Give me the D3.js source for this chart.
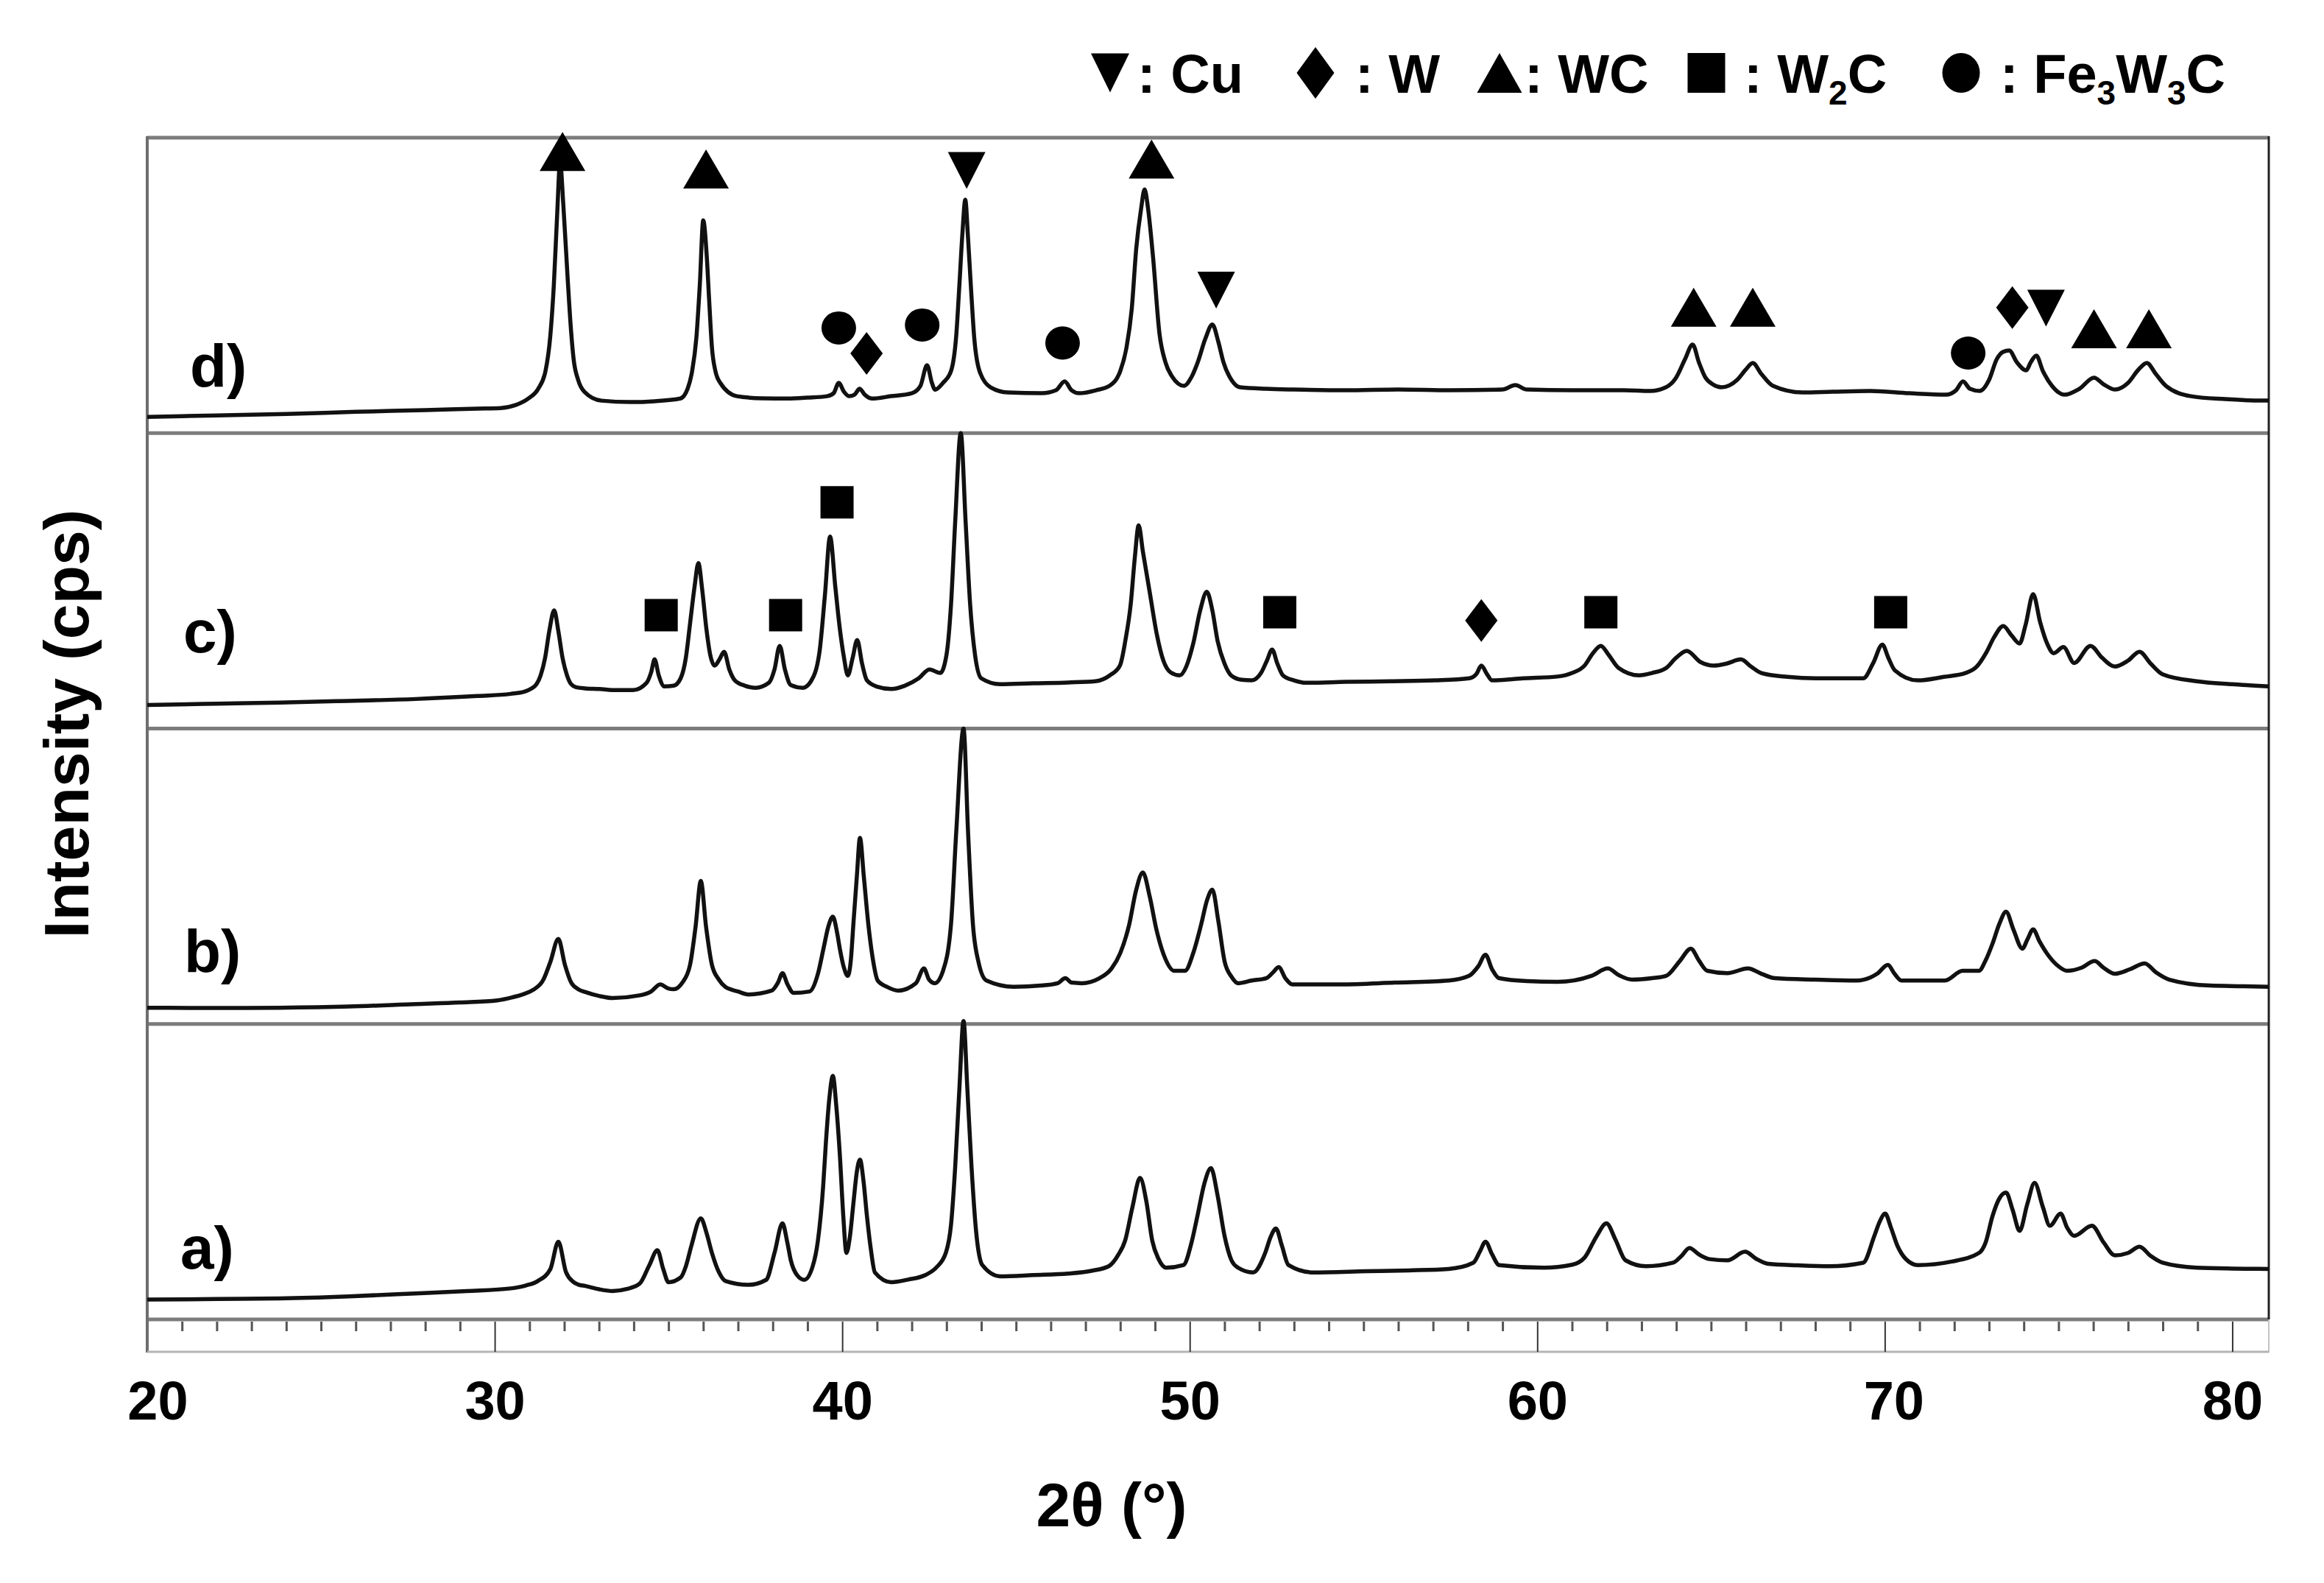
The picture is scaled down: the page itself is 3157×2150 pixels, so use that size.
<!DOCTYPE html>
<html>
<head>
<meta charset="utf-8">
<script src="https://cdn.jsdelivr.net/npm/d3@7"></script>
<style>
  body { margin: 0; background: #fff; }
  svg { display: block; }
  text { font-family: "Liberation Sans", Arial, sans-serif; font-weight: bold; fill: #000; }
</style>
</head>
<body>
<svg id="chart" width="3157" height="2150"></svg>
<script>

// XRD patterns, 2theta (deg) and intensity (% of panel height)
var twoThetaD = [20.0, 22.0, 24.0, 26.0, 28.0, 29.5, 30.17, 30.6, 30.97, 31.25, 31.46, 31.6, 31.7, 31.8, 31.88, 31.97, 32.1, 32.2, 32.27, 32.4, 32.58, 33.07, 33.9, 34.6, 35.34, 35.55, 35.68, 35.8, 35.9, 36.0, 36.1, 36.17, 36.25, 36.35, 36.49, 36.97, 37.7, 38.43, 39.0, 39.56, 39.75, 39.9, 40.05, 40.2, 40.35, 40.5, 40.65, 40.86, 41.4, 42.0, 42.25, 42.44, 42.58, 42.67, 42.9, 43.13, 43.28, 43.37, 43.46, 43.54, 43.62, 43.7, 43.8, 43.95, 44.27, 44.77, 45.74, 46.15, 46.4, 46.6, 46.82, 47.3, 47.69, 48.0, 48.18, 48.33, 48.46, 48.6, 48.7, 48.8, 48.94, 49.13, 49.3, 49.5, 49.83, 50.05, 50.23, 50.45, 50.65, 50.82, 50.97, 51.2, 51.45, 52.2, 53.0, 54.5, 56.0, 57.5, 59.0, 59.37, 59.7, 61.0, 62.5, 63.25, 63.7, 63.98, 64.25, 64.47, 64.65, 64.83, 65.05, 65.3, 65.75, 66.0, 66.2, 66.45, 66.78, 67.63, 68.5, 69.58, 70.7, 71.76, 72.05, 72.25, 72.45, 72.73, 73.0, 73.22, 73.4, 73.58, 73.8, 74.07, 74.2, 74.36, 74.55, 74.81, 75.17, 75.6, 76.02, 76.3, 76.63, 77.0, 77.3, 77.54, 77.8, 78.09, 78.81, 79.8, 80.89, 81.05];
var countsD = [5.5, 6.0, 6.5, 7.2, 7.8, 8.3, 8.5, 9.5, 11.75, 15, 21, 33, 50, 75, 92, 78, 52, 34, 25, 18, 14, 11, 10.5, 10.8, 11.7, 15, 21, 32, 50, 72, 60, 45, 29, 21, 17, 12.5, 11.8, 11.7, 12, 12.5, 13.5, 17, 14, 12.5, 13, 15, 13, 11.7, 12.5, 13.5, 16, 23, 17, 14.7, 17, 21, 33, 50, 68, 79, 66, 50, 32, 21, 15.5, 13.75, 13.5, 14.5, 17.5, 14.5, 13.5, 14.5, 16, 21, 29, 42, 62.5, 76, 82.5, 76, 60, 33.5, 24, 19, 16, 19, 24, 32, 36.75, 31, 24, 18, 15.5, 15, 14.75, 14.5, 14.75, 14.5, 14.75, 16.25, 14.75, 14.5, 14.5, 14.25, 15.5, 18.5, 25, 30, 24, 19, 16.5, 15.5, 18, 21.5, 23.75, 20, 16, 13.75, 14, 14.25, 13.5, 13, 14.5, 17.5, 15, 14.25, 18, 25, 27.5, 28, 24, 21.25, 24, 26.25, 21, 16, 13, 15, 18.75, 16.5, 14.75, 17, 21.5, 23.75, 20, 16, 12.5, 11.5, 11, 11];

var twoThetaC = [20.0, 22.0, 23.81, 25.5, 27.72, 29.5, 30.46, 30.85, 31.05, 31.2, 31.32, 31.45, 31.57, 31.71, 31.83, 31.95, 32.08, 32.2, 32.34, 32.6, 33.0, 33.5, 33.98, 34.37, 34.5, 34.6, 34.72, 34.88, 35.15, 35.35, 35.5, 35.62, 35.75, 35.86, 35.97, 36.09, 36.2, 36.33, 36.47, 36.6, 36.75, 36.91, 37.2, 37.5, 37.89, 38.05, 38.2, 38.35, 38.52, 38.87, 39.1, 39.34, 39.5, 39.65, 39.8, 39.93, 40.05, 40.16, 40.3, 40.43, 40.57, 40.71, 41.0, 41.41, 41.8, 42.2, 42.51, 42.82, 43.0, 43.13, 43.25, 43.41, 43.55, 43.68, 43.82, 44.0, 44.54, 45.5, 46.5, 47.28, 47.7, 47.99, 48.15, 48.3, 48.42, 48.53, 48.65, 48.85, 49.05, 49.24, 49.45, 49.71, 49.9, 50.1, 50.3, 50.49, 50.65, 50.8, 51.0, 51.19, 51.5, 51.78, 52.05, 52.22, 52.37, 52.52, 52.68, 53.0, 53.35, 54.5, 55.8, 57.06, 58.04, 58.25, 58.39, 58.55, 58.7, 59.6, 60.58, 61.0, 61.36, 61.6, 61.83, 62.05, 62.34, 62.93, 63.3, 63.71, 64.0, 64.3, 64.7, 65.08, 65.45, 65.86, 66.15, 66.45, 67.2, 68.02, 69.38, 69.66, 69.93, 70.1, 70.29, 70.95, 71.7, 72.32, 72.65, 72.91, 73.15, 73.41, 73.65, 73.88, 74.05, 74.27, 74.47, 74.67, 74.86, 75.14, 75.45, 75.92, 76.25, 76.62, 77.0, 77.33, 77.65, 77.99, 78.97, 80.0, 81.05];
var countsC = [8, 8.4, 8.8, 9.3, 10, 11, 11.75, 12.5, 13.5, 15, 18, 24, 33, 40, 33, 24, 18, 15, 14, 13.6, 13.4, 13, 13, 15.5, 19, 23.4, 18, 14.25, 14.5, 17, 24, 35.5, 48, 56, 47, 33.8, 25, 21.3, 23.5, 26, 20, 16.3, 14.5, 13.8, 15.5, 20, 28, 20, 14.7, 13.8, 16, 25.5, 45, 65, 48, 33.8, 24, 18, 24, 30, 22, 16.3, 14.2, 13.4, 14.5, 17, 20, 18.8, 25, 42, 70, 100, 70, 42, 25, 17, 15, 15.3, 15.6, 16, 18, 21.3, 30, 42, 58, 68.8, 60, 46, 32, 23, 19, 18, 21, 28.8, 40, 46.3, 40, 29.7, 22, 18, 16.5, 16.3, 18.8, 23, 26.75, 22, 18, 16.3, 15.5, 15.8, 16, 16.3, 17, 18.5, 21.3, 18.5, 16.3, 17, 17.6, 18.8, 21.3, 25.5, 28, 25, 20.5, 18, 18.8, 20.5, 24, 26.3, 22.5, 21.3, 22, 23.4, 21, 18.8, 17.5, 17, 17, 22, 28.4, 24, 19.7, 16.3, 17.5, 18.8, 21, 25.5, 31, 34.7, 31.5, 28.8, 35, 45.5, 36, 28.8, 25.5, 27.6, 22.2, 28, 24, 21, 23, 26, 22, 18.4, 16, 15, 14.25];

var twoThetaB = [20.0, 22.0, 23.8, 25.8, 27.72, 29.0, 30.07, 30.5, 30.85, 31.1, 31.4, 31.6, 31.83, 32.02, 32.2, 32.4, 32.61, 33.0, 33.39, 34.17, 34.5, 34.76, 35.0, 35.15, 35.4, 35.62, 35.78, 35.93, 36.08, 36.25, 36.45, 36.64, 37.0, 37.3, 37.97, 38.15, 38.28, 38.42, 38.6, 39.06, 39.3, 39.46, 39.6, 39.73, 39.85, 39.93, 40.05, 40.16, 40.25, 40.32, 40.42, 40.51, 40.62, 40.75, 40.88, 41.02, 41.3, 41.61, 42.12, 42.35, 42.5, 42.66, 42.9, 43.13, 43.28, 43.49, 43.62, 43.76, 43.92, 44.15, 44.93, 45.72, 46.2, 46.42, 46.6, 46.89, 47.4, 47.75, 48.0, 48.26, 48.45, 48.65, 48.85, 49.04, 49.3, 49.55, 49.86, 50.1, 50.33, 50.5, 50.65, 50.82, 51.0, 51.2, 51.39, 51.78, 52.2, 52.4, 52.56, 52.75, 52.95, 54.32, 55.9, 57.45, 58.04, 58.3, 58.51, 58.7, 58.9, 59.7, 60.58, 61.56, 62.03, 62.35, 62.73, 63.3, 63.71, 64.1, 64.42, 64.65, 64.89, 65.47, 66.06, 66.45, 66.84, 68.0, 69.19, 69.78, 70.09, 70.28, 70.48, 71.73, 72.24, 72.71, 72.9, 73.1, 73.3, 73.49, 73.7, 73.96, 74.1, 74.27, 74.45, 74.67, 74.95, 75.25, 75.65, 76.04, 76.3, 76.62, 77.05, 77.48, 77.8, 78.19, 79.36, 80.3, 81.05];
var countsB = [5.5, 5.4, 5.5, 5.9, 6.75, 7.3, 8, 9, 10.2, 11.5, 15, 21, 28.8, 20, 14, 11.8, 10.8, 9.5, 8.8, 9.7, 11, 13.4, 12, 11.75, 14, 20, 33, 48.4, 33, 20, 15, 12.5, 11, 10, 11.3, 14, 17.2, 13.5, 10.5, 11, 17, 25.5, 33, 36.3, 31, 25.5, 19, 16.3, 22, 33.8, 50, 63, 50, 33.8, 22, 14.7, 12.5, 11.3, 13.8, 18.8, 15, 13.8, 18, 33.8, 65, 100, 65, 33.8, 21, 14.7, 12.6, 13, 13.8, 15.5, 14, 13.8, 15.5, 18.8, 24, 33.8, 45, 51.3, 43, 32, 22, 18, 18, 24, 33.8, 42, 45.5, 35, 21.3, 16, 13.8, 14.7, 15.5, 17.5, 19.25, 15.5, 13.4, 13.4, 14, 14.7, 16.3, 19.5, 23.4, 18.5, 15.5, 14.5, 14.25, 16.3, 18.8, 16.5, 15, 15.5, 16.3, 21.3, 25.5, 21.5, 18, 17.2, 18.8, 17, 15.5, 15, 14.7, 17, 20, 17, 14.7, 14.7, 18, 18, 21.5, 27.2, 34, 38, 32, 25.5, 28.5, 32, 28, 23.8, 20, 18, 19, 21.3, 19, 17, 18.5, 20.5, 17.5, 15, 13, 12.8, 12.6];

var twoThetaA = [20.0, 22.0, 23.81, 25.8, 27.72, 29.2, 30.46, 30.9, 31.24, 31.6, 31.83, 32.05, 32.25, 32.4, 32.61, 33.0, 33.39, 33.8, 34.17, 34.45, 34.68, 34.85, 35.0, 35.35, 35.5, 35.66, 35.93, 36.1, 36.25, 36.45, 36.64, 37.3, 37.81, 38.05, 38.28, 38.42, 38.52, 38.7, 38.91, 39.15, 39.3, 39.45, 39.53, 39.63, 39.73, 39.83, 39.93, 40.03, 40.12, 40.22, 40.32, 40.42, 40.51, 40.61, 40.71, 40.82, 40.94, 41.41, 41.9, 42.39, 42.7, 42.98, 43.13, 43.25, 43.37, 43.49, 43.6, 43.72, 43.85, 44.03, 44.54, 45.5, 46.5, 47.2, 47.67, 47.95, 48.14, 48.35, 48.57, 48.75, 48.92, 49.1, 49.32, 49.82, 50.05, 50.22, 50.42, 50.61, 50.8, 51.0, 51.2, 51.39, 51.82, 52.17, 52.33, 52.48, 52.65, 52.84, 53.54, 55.1, 56.3, 57.45, 58.16, 58.35, 58.51, 58.7, 58.9, 60.19, 61.0, 61.36, 61.7, 61.99, 62.25, 62.54, 63.13, 63.91, 64.15, 64.38, 64.65, 64.96, 65.47, 65.98, 66.3, 66.65, 67.5, 68.41, 69.38, 69.7, 69.85, 70.01, 70.18, 70.36, 70.6, 70.95, 71.93, 72.71, 72.9, 73.1, 73.3, 73.49, 73.68, 73.88, 74.1, 74.31, 74.55, 74.75, 75.06, 75.25, 75.45, 75.96, 76.3, 76.62, 77.0, 77.33, 77.65, 77.99, 78.97, 80.0, 81.05];
var countsA = [6.7, 6.9, 7.1, 7.8, 8.8, 9.6, 10.5, 11.5, 13, 17, 26.3, 16, 12.8, 11.8, 11.3, 10.2, 9.6, 10.3, 12.1, 18.4, 23.4, 17, 12.6, 14.2, 18, 25, 34.2, 29, 22.5, 16, 13, 11.7, 13.4, 22.5, 32.5, 26, 20, 15, 13.4, 18, 26.7, 45, 60, 75, 82.4, 72, 55.8, 35, 22.5, 28, 39.2, 50, 54.1, 47, 35, 24, 15.9, 12.6, 13.5, 15, 17.5, 22.5, 32, 51.6, 78, 101, 78, 51.6, 30, 18.4, 14.6, 15, 15.5, 16.5, 18, 22, 26.7, 38, 47.9, 40, 26.7, 20.5, 17.5, 18.4, 26, 35, 46, 51.2, 42, 28.3, 20, 17.5, 15.9, 22.5, 28, 30.8, 25, 18.4, 15.9, 16.3, 16.6, 17.1, 19.2, 23, 26.3, 22, 18.4, 17.5, 18.5, 20.9, 28, 32.5, 27, 20, 18, 19.2, 21.5, 24.2, 22, 20.4, 20, 22.9, 20.5, 18.8, 18.3, 18, 19.2, 28.3, 33, 35.8, 31, 25, 20.5, 18.4, 19.6, 22.5, 26, 35, 41, 42.9, 37, 30, 39, 46.2, 38, 31.7, 35.8, 31, 28.3, 31.7, 26, 21.7, 22.5, 24.6, 21.5, 19.2, 17.5, 17.2, 17.1];

// phase markers: position, height (% of panel), phase
var markerThetaD = [31.95, 36.08, 43.58, 39.9, 40.7, 42.3, 46.34, 48.9, 50.76, 64.5, 66.2, 72.4, 73.67, 74.64, 76.02, 77.6];
var markerLevelD = [95.3, 89.4, 88.9, 35.6, 27, 36.6, 30.5, 92.8, 48.4, 42.6, 42.6, 27.1, 42.5, 42.3, 35.3, 35.3];
var markerPhaseD = ["WC", "WC", "Cu", "Fe3W3C", "W", "Fe3W3C", "Fe3W3C", "WC", "Cu", "WC", "WC", "Fe3W3C", "W", "Cu", "WC", "WC"];

var markerThetaC = [34.79, 38.37, 39.85, 52.59, 58.39, 61.83, 70.17];
var markerLevelC = [38.4, 38.4, 76.6, 39.4, 36.6, 39.4, 39.4];
var markerPhaseC = ["W2C", "W2C", "W2C", "W2C", "W", "W2C", "W2C"];

var panelLabels = ["d)", "c)", "b)", "a)"];
var phases = ["Cu", "W", "WC", "W2C", "Fe3W3C"];
var tickValues = [20, 30, 40, 50, 60, 70, 80];

// wait until DOM has loaded
document.addEventListener("DOMContentLoaded", function() {
    drawChart();
});

function drawChart() {

    var svg = d3.select("#chart");

    var plotTop = 187,
        plotBottom = 1792,
        plotLeft = 200,
        plotRight = 3082,
        panelH = (plotBottom - plotTop) / 4;

    var x = d3.scaleLinear()
        .domain([20, 81.05])
        .range([plotLeft, plotRight]);

    var panels = [
        {label: panelLabels[0], theta: twoThetaD, counts: countsD, mTheta: markerThetaD, mLevel: markerLevelD, mPhase: markerPhaseD, labelDx: 258, labelDy: 338},
        {label: panelLabels[1], theta: twoThetaC, counts: countsC, mTheta: markerThetaC, mLevel: markerLevelC, mPhase: markerPhaseC, labelDx: 249, labelDy: 298},
        {label: panelLabels[2], theta: twoThetaB, counts: countsB, mTheta: [], mLevel: [], mPhase: [], labelDx: 250, labelDy: 330},
        {label: panelLabels[3], theta: twoThetaA, counts: countsA, mTheta: [], mLevel: [], mPhase: [], labelDx: 245, labelDy: 332}
    ];

    drawFrame(svg, panels.length, plotTop, plotBottom, plotLeft, plotRight, panelH);
    drawXAxis(svg, x, plotBottom);

    panels.forEach(function(p, i) {
        var top = plotTop + i * panelH;
        var y = d3.scaleLinear()
            .domain([0, 100])
            .range([top + panelH, top]);

        drawPattern(svg, p, x, y);
        drawMarkers(svg, p, x, y);

        svg.append("text")
            .attr("x", p.labelDx)
            .attr("y", top + p.labelDy)
            .style("font-size", "82px")
            .text(p.label);
    });

    drawLegend(svg);

    // axis titles
    svg.append("text")
        .attr("transform", "translate(120,983) rotate(-90)")
        .attr("text-anchor", "middle")
        .style("font-size", "86px")
        .text("Intensity (cps)");

    svg.append("text")
        .attr("x", 1510)
        .attr("y", 2073)
        .attr("text-anchor", "middle")
        .style("font-size", "84px")
        .text("2\u03b8 (\u00b0)");
}

// panel separators and the outer box
function drawFrame(svg, n, plotTop, plotBottom, plotLeft, plotRight, panelH) {

    var frame = svg.append("g").attr("class", "frame");

    frame.selectAll("line.sep")
        .data(d3.range(n + 1))
        .enter()
        .append("line")
        .attr("class", "sep")
        .attr("x1", plotLeft)
        .attr("x2", plotRight)
        .attr("y1", function(d) { return plotTop + d * panelH; })
        .attr("y2", function(d) { return plotTop + d * panelH; })
        .attr("stroke", "#7c7c7c")
        .attr("stroke-width", 5);

    frame.append("line")
        .attr("x1", plotLeft).attr("x2", plotLeft)
        .attr("y1", plotTop - 2).attr("y2", plotBottom + 45)
        .attr("stroke", "#6e6e6e")
        .attr("stroke-width", 4);

    frame.append("line")
        .attr("x1", plotRight).attr("x2", plotRight)
        .attr("y1", plotTop - 2).attr("y2", plotBottom)
        .attr("stroke", "#222")
        .attr("stroke-width", 3);

    frame.append("line")
        .attr("x1", plotRight).attr("x2", plotRight)
        .attr("y1", plotBottom).attr("y2", plotBottom + 45)
        .attr("stroke", "#c4c4c4")
        .attr("stroke-width", 2);

    frame.append("line")
        .attr("x1", plotLeft).attr("x2", plotRight)
        .attr("y1", plotBottom + 44).attr("y2", plotBottom + 44)
        .attr("stroke", "#b4b4b4")
        .attr("stroke-width", 3);
}

// minor and major ticks in the strip under the panels, with labels
function drawXAxis(svg, x, plotBottom) {

    var minor = d3.range(21, 81).filter(function(d) { return d % 10 !== 0; });

    svg.append("g")
        .attr("class", "x minor")
        .attr("transform", "translate(0," + (plotBottom + 3) + ")")
        .call(d3.axisBottom(x).tickValues(minor).tickSize(13).tickFormat(""))
        .call(function(g) { g.select(".domain").remove(); })
        .selectAll("line")
        .attr("stroke", "#555")
        .attr("stroke-width", 3);

    var major = svg.append("g")
        .attr("class", "x major")
        .attr("transform", "translate(0," + (plotBottom + 3) + ")")
        .call(d3.axisBottom(x).tickValues(tickValues).tickSize(41).tickFormat(d3.format("d")))
        .call(function(g) { g.select(".domain").remove(); });

    major.selectAll("line")
        .attr("stroke", function(d) { return d === 20 ? "none" : "#333"; })
        .attr("stroke-width", 2);

    major.selectAll("text")
        .attr("y", 133)
        .attr("dy", null)
        .attr("dx", function(d) { return d === 20 ? 14 : (d === 70 ? 12 : 0); })
        .attr("fill", "#000")
        .style("font-family", "'Liberation Sans', Arial, sans-serif")
        .style("font-weight", "bold")
        .style("font-size", "74px");
}

function drawPattern(svg, p, x, y) {

    var points = p.theta.map(function(t, i) { return [t, p.counts[i]]; });

    var line = d3.line()
        .x(function(d) { return x(d[0]); })
        .y(function(d) { return y(d[1]); })
        .curve(d3.curveMonotoneX);

    svg.append("path")
        .datum(points)
        .attr("d", line)
        .attr("fill", "none")
        .attr("stroke", "#111")
        .attr("stroke-width", 5.5)
        .attr("stroke-linejoin", "round");
}

// symbol outline centred on (0,0), w by h
function symbolPath(phase, w, h) {
    var a = w / 2, b = h / 2;
    if (phase === "Cu") {
        return "M" + (-a) + "," + (-b) + "L" + a + "," + (-b) + "L0," + b + "Z";
    }
    if (phase === "WC") {
        return "M" + (-a) + "," + b + "L" + a + "," + b + "L0," + (-b) + "Z";
    }
    if (phase === "W") {
        return "M0," + (-b) + "L" + a + ",0L0," + b + "L" + (-a) + ",0Z";
    }
    if (phase === "W2C") {
        return "M" + (-a) + "," + (-b) + "H" + a + "V" + b + "H" + (-a) + "Z";
    }
    // Fe3W3C: ellipse
    return "M" + (-a) + ",0A" + a + "," + b + " 0 1,0 " + a + ",0A" + a + "," + b + " 0 1,0 " + (-a) + ",0Z";
}

var markerSize = {
    "Cu": [51, 50],
    "W": [44, 58],
    "WC": [62, 53],
    "W2C": [45, 44],
    "Fe3W3C": [47, 45]
};

function drawMarkers(svg, p, x, y) {

    var data = p.mTheta.map(function(t, i) { return {t: t, v: p.mLevel[i], phase: p.mPhase[i]}; });

    svg.selectAll(null)
        .data(data)
        .enter()
        .append("path")
        .attr("transform", function(d) { return "translate(" + x(d.t) + "," + y(d.v) + ")"; })
        .attr("d", function(d) { return symbolPath(d.phase, markerSize[d.phase][0], markerSize[d.phase][1]); })
        .attr("fill", "#000");
}

function drawLegend(svg) {

    var symbolX = [1508, 1787, 2037, 2318, 2664],
        textX = [1545, 1841, 2071, 2369, 2717],
        legendSize = [[52, 53], [51, 70], [61, 54], [51, 54], [51, 54]];

    var legend = svg.append("g").attr("class", "legend");

    phases.forEach(function(ph, i) {
        legend.append("path")
            .attr("transform", "translate(" + symbolX[i] + ",99)")
            .attr("d", symbolPath(ph, legendSize[i][0], legendSize[i][1]))
            .attr("fill", "#000");

        var t = legend.append("text")
            .attr("x", textX[i])
            .attr("y", 126)
            .style("font-size", "74px");

        t.append("tspan").text(": ");

        // split chemical formula into letters and subscript digits
        var parts = ph.match(/[A-Za-z]+|\d+/g);
        var shifted = false;
        parts.forEach(function(part) {
            var isSub = /\d/.test(part);
            var s = t.append("tspan").text(part);
            if (isSub) {
                s.attr("dy", 16).style("font-size", "46px");
                shifted = true;
            } else if (shifted) {
                s.attr("dy", -16);
                shifted = false;
            }
        });
    });
}

</script>
</body>
</html>
